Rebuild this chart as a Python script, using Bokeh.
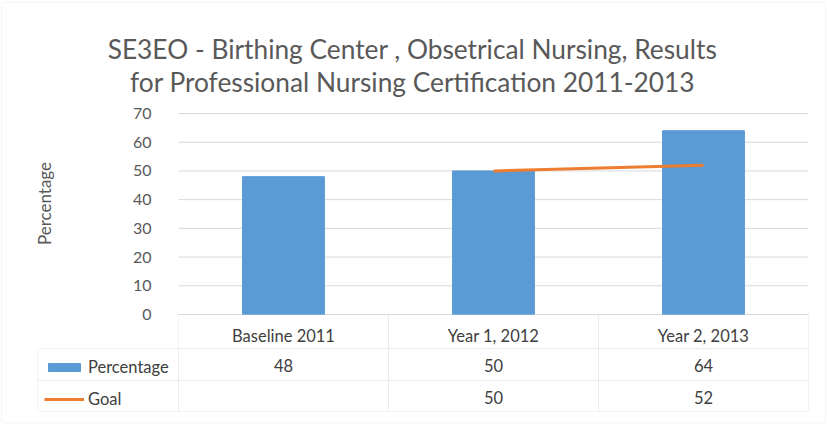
import math
from bokeh.plotting import figure
from bokeh.models import (ColumnDataSource, Range1d, FixedTicker, LabelSet, Label, LinearAxis,
                          BoxAnnotation, Legend, LegendItem)
from bokeh.core.properties import value
from bokeh.embed import file_html
from bokeh.resources import INLINE

# ---- data ----
categories = ["Baseline 2011", "Year 1, 2012", "Year 2, 2013"]
percentage = [48, 50, 64]
goal = [None, 50, 52]
y_ticks = [0, 10, 20, 30, 40, 50, 60, 70]
series_names = ["Percentage", "Goal"]
y_title = "Percentage"
title_lines = ["SE3EO - Birthing Center , Obsetrical Nursing, Results",
               "for Professional Nursing Certification 2011-2013"]

# ---- style / layout (pixels inside the figure) ----
W, H = 827, 424
FONT = "Lato"
TEXT = "#595959"
TABLE_TEXT = "#404040"
GRID = "#D9D9D9"
BAR = "#5B9BD5"
LINE = "#ED7D31"
PLOT_L, PLOT_R, PLOT_T, PLOT_B = 178, 808, 113, 314   # plot area in figure pixels
Y_MAX = 70
N = len(categories)
x_px = (PLOT_R - PLOT_L) / N
y_px = (PLOT_B - PLOT_T) / Y_MAX
row_px = [34, 32, 31]          # header, percentage, goal row heights
TABLE_L = 37                   # left edge of the row-label column

p = figure(width=W, height=H,
           x_range=Range1d(-PLOT_L / x_px, (W - PLOT_L) / x_px),
           y_range=Range1d(-(H - PLOT_B) / y_px, PLOT_B / y_px),
           x_axis_type=None, y_axis_type=None,
           output_backend="svg", toolbar_location=None,
           min_border=0)
p.outline_line_color = None
p.xgrid.visible = False
p.ygrid.visible = False

xpos = [i + 0.5 for i in range(N)]
src = ColumnDataSource(dict(x=xpos, cat=categories, pct=percentage,
                            pct_txt=[str(v) for v in percentage],
                            goal_txt=["" if g is None else str(g) for g in goal]))

# grid lines of the plot area
p.segment(x0=[0] * len(y_ticks), x1=[N] * len(y_ticks), y0=y_ticks, y1=y_ticks,
          line_color=GRID, line_width=1)

bars = p.vbar(x="x", top="pct", width=0.39, source=src, fill_color=BAR, line_color=BAR)
gx = [x for x, g in zip(xpos, goal) if g is not None]
gy = [g for g in goal if g is not None]
gline = p.line(x=gx, y=gy, line_color=LINE, line_width=3)

# y axis at the plot-area's left edge
yax = LinearAxis(fixed_location=0, ticker=FixedTicker(ticks=y_ticks))
yax.axis_line_color = None
yax.major_tick_line_color = None
yax.minor_tick_line_color = None
yax.major_label_standoff = 21
yax.major_label_text_font = FONT
yax.major_label_text_font_size = "16px"
yax.major_label_text_color = TEXT
p.add_layout(yax, "left")

# y axis title
p.add_layout(Label(x=44, y=H - 203, x_units="screen", y_units="screen", text=y_title,
                   angle=math.pi / 2, text_align="center", text_baseline="middle",
                   text_font=FONT, text_font_size="17px", text_color=TEXT))

# category axis = header row of the data table
xax = LinearAxis(fixed_location=0, ticker=FixedTicker(ticks=xpos),
                 major_label_overrides={x: c for x, c in zip(xpos, categories)})
xax.axis_line_color = None
xax.major_tick_line_color = None
xax.minor_tick_line_color = None
xax.major_label_standoff = 5
xax.major_label_text_font = FONT
xax.major_label_text_font_size = "16.5px"
xax.major_label_text_color = TABLE_TEXT
p.add_layout(xax, "below")

# data table grid
ys = [0]
for r in row_px:
    ys.append(ys[-1] - r / y_px)
col_edges = [(TABLE_L - PLOT_L) / x_px] + list(range(N + 1))
for ri in range(3):
    start = 1 if ri == 0 else 0
    for ci in range(start, N + 1):
        p.add_layout(BoxAnnotation(left=col_edges[ci], right=col_edges[ci + 1],
                                   top=ys[ri], bottom=ys[ri + 1],
                                   fill_color=None, line_color=GRID, line_width=1))

# table values
for field, ri in (("pct_txt", 1), ("goal_txt", 2)):
    p.add_layout(LabelSet(x="x", y=(ys[ri] + ys[ri + 1]) / 2, text=field, source=src,
                          text_align="center", text_baseline="middle", y_offset=-1,
                          text_font=value(FONT), text_font_size="16.5px", text_color=TABLE_TEXT))

# legend keys in the table's first column
item_h, gh = 20, 10
legend = Legend(items=[LegendItem(label=series_names[0], renderers=[bars]),
                       LegendItem(label=series_names[1], renderers=[gline])],
                location=(44, H - 409), padding=0, margin=0, spacing=32 - item_h,
                glyph_width=40, glyph_height=gh, label_height=item_h, label_standoff=4,
                border_line_color=None, background_fill_alpha=0,
                label_text_font=FONT, label_text_font_size="16.5px", label_text_color=TABLE_TEXT)
p.add_layout(legend, "center")

# title (two centred lines)
for line, base in zip(title_lines, (48, 81)):
    p.add_layout(Label(x=412, y=H - base, x_units="screen", y_units="screen", text=line,
                       text_align="center", text_baseline="alphabetic", text_font=FONT,
                       text_font_size="26.3px", text_color=TEXT))

# chart border
p.add_layout(BoxAnnotation(left=1, right=825, top=1.5, bottom=422.5,
                           left_units="canvas", right_units="canvas",
                           top_units="canvas", bottom_units="canvas",
                           fill_color=None, line_color=GRID, line_width=1, border_radius=4))

open("out.html", "w").write(file_html(p, INLINE))
